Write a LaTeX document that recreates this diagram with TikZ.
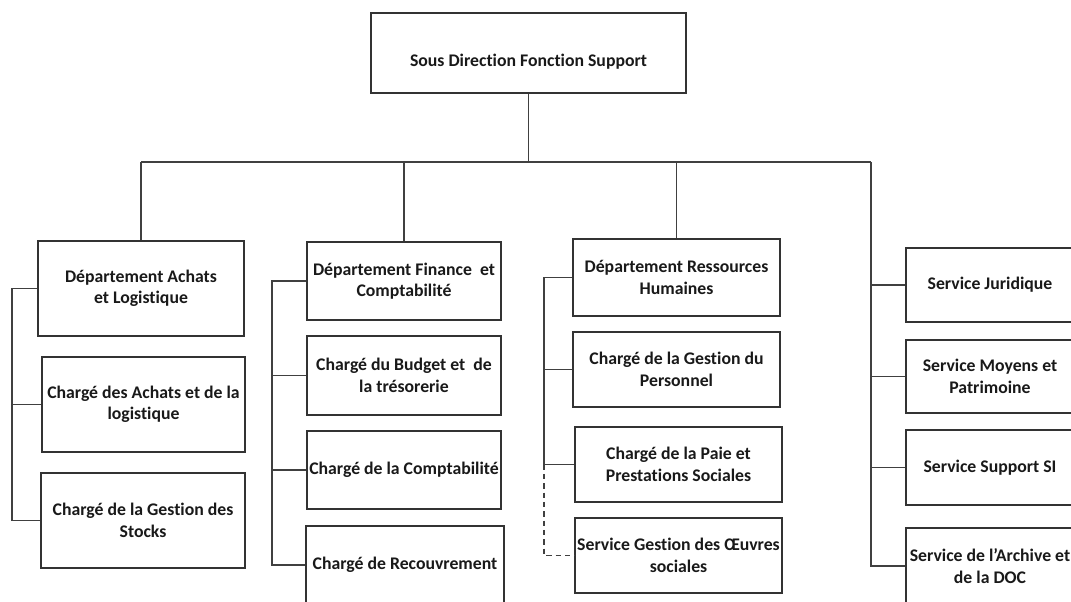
\documentclass[tikz,border=0pt]{standalone}
\usepackage{fontspec}
\setmainfont[Ligatures={NoCommon}]{Carlito}
\begin{document}
\begin{tikzpicture}[x=0.75pt,y=-0.75pt,
  box/.style={draw=black!80,line width=0.8pt,rectangle,align=center,inner sep=0pt,
    font=\bfseries\fontsize{13.3}{16}\selectfont,text=black!90},
  link/.style={draw=black!75,line width=0.8pt},
  dlink/.style={link,dash pattern=on 4pt off 3pt}]
\useasboundingbox (0,0) rectangle (1071,602);
\clip (0,0) rectangle (1071,602);
\fill[white] (0,0) rectangle (1071,602);
\newcommand{\bx}[7][]{\node[box,#1,minimum width={(#5-#3)*0.75pt},minimum height={(#6-#4)*0.75pt}] (#2) at ({(#3+#5)/2},{(#4+#6)/2}) {#7};}
% top
\bx[text height=24pt,text depth=3pt]{top}{371}{13}{686}{93}{Sous Direction Fonction Support}
% column 1
\bx{a1}{38}{241}{244}{336}{Département Achats\\et Logistique}
\bx{a2}{42}{357}{245}{452}{Chargé des Achats et de la\\logistique}
\bx{a3}{41}{473}{245}{568}{Chargé de la Gestion des\\Stocks}
% column 2
\bx{f1}{307}{242}{501}{320}{Département Finance\ \ et\\Comptabilité}
\bx{f2}{307}{336}{501}{415}{Chargé du Budget et\ \ de\\la trésorerie}
\bx{f3}{307}{431}{501}{509}{Chargé de la Comptabilité}
\bx{f4}{306}{526}{504}{604}{Chargé de Recouvrement}
% column 3
\bx{h1}{573}{239}{780}{316}{Département Ressources\\Humaines}
\bx{h2}{573}{332}{780}{407}{Chargé de la Gestion du\\Personnel}
\bx{h3}{575}{427}{782}{502}{Chargé de la Paie et\\Prestations Sociales}
\bx{h4}{575}{518}{782}{593}{Service Gestion des Œuvres\\sociales}
% column 4
\bx{s1}{906}{248}{1074}{322}{Service Juridique}
\bx{s2}{906}{340}{1074}{413}{Service Moyens et\\Patrimoine}
\bx{s3}{906}{430}{1074}{505}{Service Support SI}
\bx{s4}{906}{528}{1074}{604}{Service de l'Archive et\\de la DOC}
% bar
\coordinate (barL) at (141,162);
\coordinate (barR) at (871,162);
\coordinate (c1) at (12,0);
\coordinate (c2) at (272,0);
\coordinate (c3) at (544,0);
\draw[link] (top.south) -- (top.south |- barL);
\draw[link] (barL) -- (barR);
\draw[link] (barL) -- (a1.north);
\draw[link] (f1.north |- barL) -- (f1.north);
\draw[link] (h1.north |- barL) -- (h1.north);
% column 1 bus
\draw[link] (a1.west) -- (a1.west -| c1) -- (a3.west -| c1) -- (a3.west);
\draw[link] (a2.west) -- (a2.west -| c1);
% column 2 bus
\draw[link] (f1.west) -- (f1.west -| c2) -- (f4.west -| c2) -- (f4.west);
\draw[link] (f2.west) -- (f2.west -| c2);
\draw[link] (f3.west) -- (f3.west -| c2);
% column 3 bus
\draw[link] (h1.west) -- (h1.west -| c3) -- (h3.west -| c3);
\draw[link] (h2.west) -- (h2.west -| c3);
\draw[link] (h3.west) -- (h3.west -| c3);
\draw[dlink] (h3.west -| c3) -- (h4.west -| c3) -- (h4.west);
% column 4 bus
\draw[link] (barR) -- (barR |- s4.west) -- (s4.west);
\draw[link] (s1.west) -- (s1.west -| barR);
\draw[link] (s2.west) -- (s2.west -| barR);
\draw[link] (s3.west) -- (s3.west -| barR);
\end{tikzpicture}
\end{document}
